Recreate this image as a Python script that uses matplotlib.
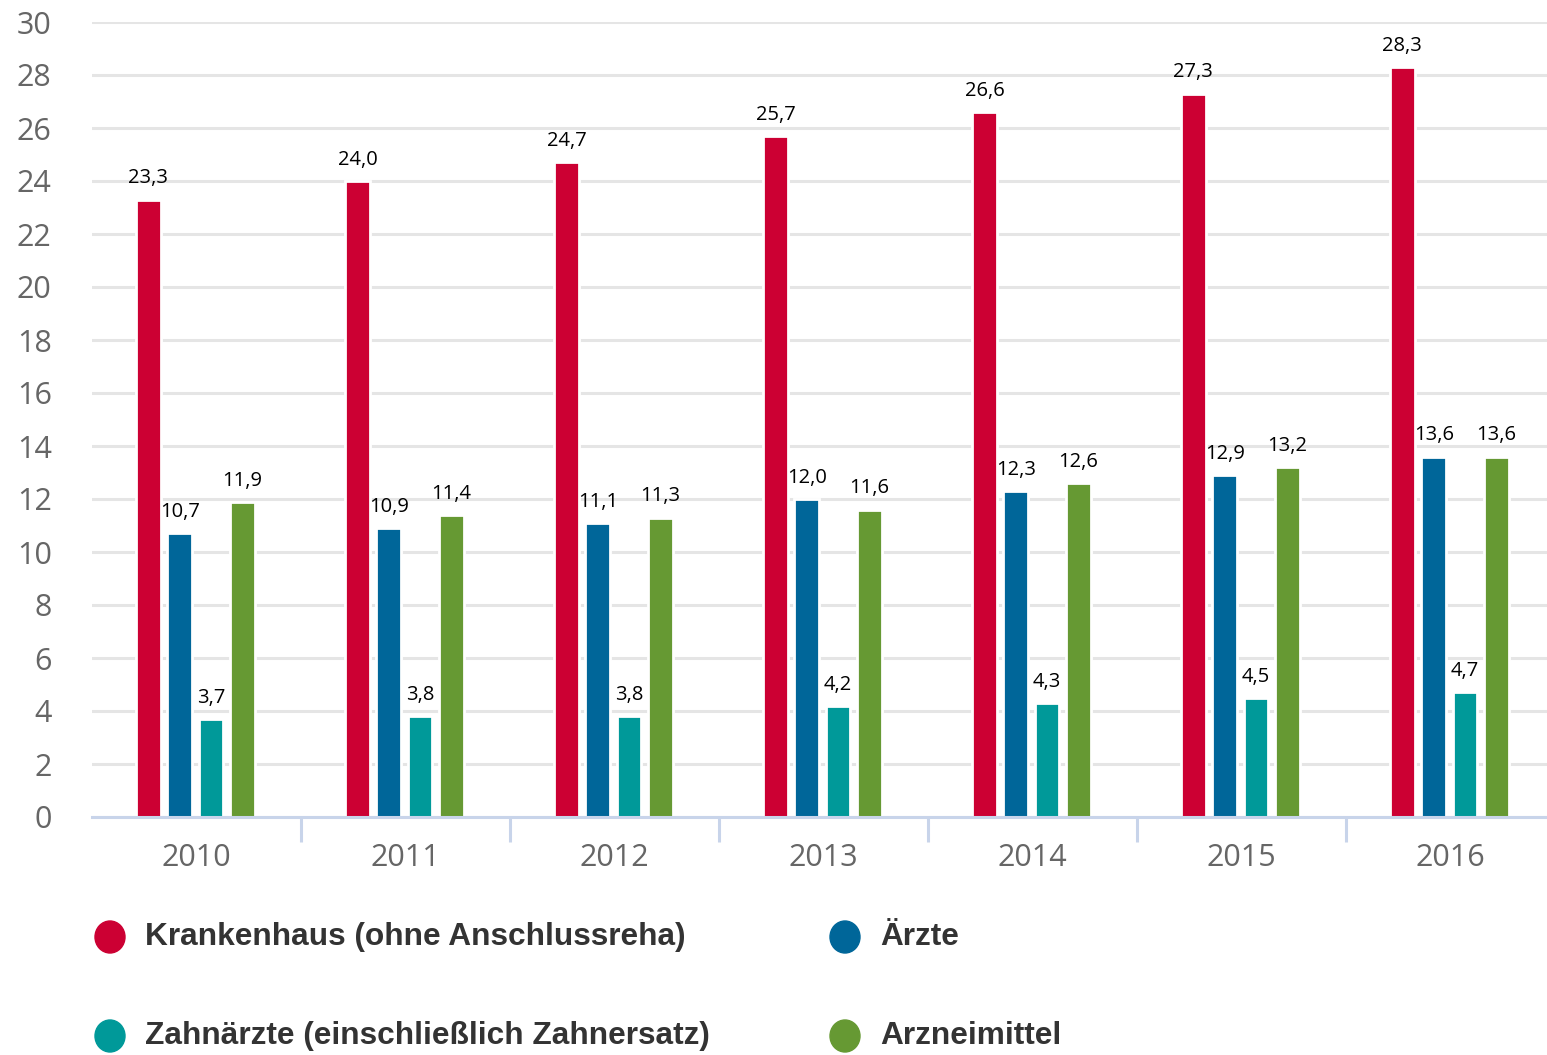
import matplotlib
matplotlib.use("Agg")
import matplotlib.pyplot as plt
from matplotlib.patches import Ellipse
import numpy as np

# Data
years = ['2010', '2011', '2012', '2013', '2014', '2015', '2016']
krankenhaus = [23.3, 24.0, 24.7, 25.7, 26.6, 27.3, 28.3]
aerzte = [10.7, 10.9, 11.1, 12.0, 12.3, 12.9, 13.6]
zahnaerzte = [3.7, 3.8, 3.8, 4.2, 4.3, 4.5, 4.7]
arzneimittel = [11.9, 11.4, 11.3, 11.6, 12.6, 13.2, 13.6]
series_names = ['Krankenhaus (ohne Anschlussreha)', 'Ärzte',
                'Zahnärzte (einschließlich Zahnersatz)', 'Arzneimittel']
colors = ['#cc0033', '#006699', '#009999', '#669933']

W, H = 1547, 1055
fig = plt.figure(figsize=(W / 100, H / 100), dpi=100)
ax = fig.add_axes([92 / W, 238 / H, 1463 / W, 795 / H])

x = np.arange(len(years))
width = 0.118
step = 0.15
all_series = [krankenhaus, aerzte, zahnaerzte, arzneimittel]
for i, (vals, c) in enumerate(zip(all_series, colors)):
    pos = x + (i - 1.5) * step - 0.005
    ax.bar(pos, vals, width=width, color=c, edgecolor='white', linewidth=2, zorder=3)
    for px, v in zip(pos, vals):
        ax.annotate(('%.1f' % v).replace('.', ','), (px, v), xytext=(0, 8),
                    textcoords='offset points', ha='center', va='bottom',
                    fontsize=14.5, family='Open Sans', color='black', zorder=4)

ax.set_xlim(-0.5, 6.5)
ax.set_ylim(0, 30)
ax.set_yticks(range(0, 31, 2))
ax.yaxis.grid(True, color='#e5e5e5', linewidth=2.2, zorder=0)
ax.set_axisbelow(True)
for s in ['top', 'right', 'left']:
    ax.spines[s].set_visible(False)
ax.spines['bottom'].set_color('#c8d4ea')
ax.spines['bottom'].set_linewidth(2.2)
ax.spines['bottom'].set_zorder(5)

ax.set_xticks(x)
ax.set_xticklabels(years)
ax.set_xticks(np.arange(0.5, 6.5, 1), minor=True)
ax.tick_params(axis='x', which='major', length=0, pad=19, labelsize=22, labelcolor='#666666')
ax.tick_params(axis='x', which='minor', length=18, width=2.2, color='#c8d4ea')
ax.tick_params(axis='y', length=0, pad=29, labelsize=22, labelcolor='#666666')
for lab in ax.get_xticklabels() + ax.get_yticklabels():
    lab.set_family('Open Sans')

# Legend
leg_pos = [(110, 937), (845, 937), (110, 1036), (845, 1036)]
for (lx, ly), name, c in zip(leg_pos, series_names, colors):
    fig.add_artist(Ellipse((lx / W, 1 - ly / H), 30 / W, 32 / H,
                           transform=fig.transFigure, color=c))
    fig.text((lx + 35) / W, 1 - ly / H, name, fontsize=22.8, fontweight='bold',
             family='Liberation Sans', color='#333333', va='center', ha='left')

fig.savefig('out.png', dpi=100)
